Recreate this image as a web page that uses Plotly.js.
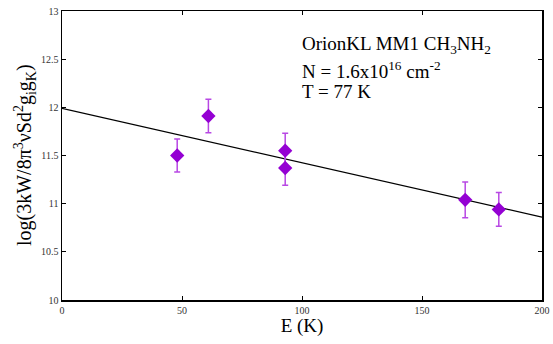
<!DOCTYPE html>
<html><head><meta charset="utf-8">
<script src="https://cdn.plot.ly/plotly-3.0.1.min.js"></script>
<style>body{margin:0;background:#fff}#c{width:553px;height:344px}</style>
</head><body><div id="c"></div>
<script>
var energy = [48, 61, 93, 93, 168, 182];
var logVal = [11.50, 11.91, 11.55, 11.37, 11.04, 10.94];
var errVal = [0.17, 0.175, 0.18, 0.18, 0.185, 0.175];
var fitX = [0, 200];
var fitY = [11.99, 10.86];
var xTicks = [0, 50, 100, 150, 200];
var yTicks = [10, 10.5, 11, 11.5, 12, 12.5, 13];

var font = "Liberation Serif, Times New Roman, serif";
var data = [
  {x: fitX, y: fitY, mode: 'lines', line: {color: '#000', width: 1.2}, hoverinfo: 'skip'},
  {x: energy, y: logVal, mode: 'markers',
   marker: {symbol: 'diamond', size: 11, color: '#9400D3'},
   error_y: {type: 'data', array: errVal, visible: true, color: '#B848E4', thickness: 1.5, width: 3}}
];
function py(p) { return 1 - (p - 11) / 289; }
function px(p) { return (p - 62) / 480; }
var layout = {
  width: 553, height: 344,
  margin: {l: 62, r: 11, t: 11, b: 44},
  showlegend: false,
  paper_bgcolor: '#fff', plot_bgcolor: '#fff',
  font: {family: font, color: '#000'},
  xaxis: {range: [0, 200], tickvals: xTicks, ticktext: xTicks.map(String),
    ticks: 'inside', ticklen: 4, tickcolor: '#000', showgrid: false, zeroline: false,
    showline: true, linecolor: '#000', linewidth: 1.5, mirror: 'ticks',
    tickfont: {size: 10, family: font, color: '#333'},
    title: {text: 'E (K)', font: {size: 19, family: font}, standoff: 3}},
  yaxis: {range: [10, 13], tickvals: yTicks, ticktext: yTicks.map(String),
    ticks: 'inside', ticklen: 4, tickcolor: '#000', showgrid: false, zeroline: false,
    showline: true, linecolor: '#000', linewidth: 1.5, mirror: 'ticks',
    tickfont: {size: 10, family: font, color: '#333'}},
  annotations: [
    {xref: 'paper', yref: 'paper', x: px(25), y: py(155), xanchor: 'center', yanchor: 'middle', showarrow: false, textangle: -90,
     text: 'log(3kW/8π<sup>3</sup>νSd<sup>2</sup>g<sub>i</sub>g<sub>K</sub>)', font: {size: 20, family: font}},
    {xref: 'paper', yref: 'paper', x: px(300), y: py(45), xanchor: 'left', yanchor: 'middle', showarrow: false,
     text: 'OrionKL MM1 CH<sub>3</sub>NH<sub>2</sub>', font: {size: 19, family: font}},
    {xref: 'paper', yref: 'paper', x: px(300), y: py(70), xanchor: 'left', yanchor: 'middle', showarrow: false,
     text: 'N = 1.6x10<sup>16</sup> cm<sup>-2</sup>', font: {size: 19, family: font}},
    {xref: 'paper', yref: 'paper', x: px(300), y: py(91), xanchor: 'left', yanchor: 'middle', showarrow: false,
     text: 'T = 77 K', font: {size: 19, family: font}}
  ]
};
Plotly.newPlot('c', data, layout, {staticPlot: true, displayModeBar: false});
</script></body></html>
